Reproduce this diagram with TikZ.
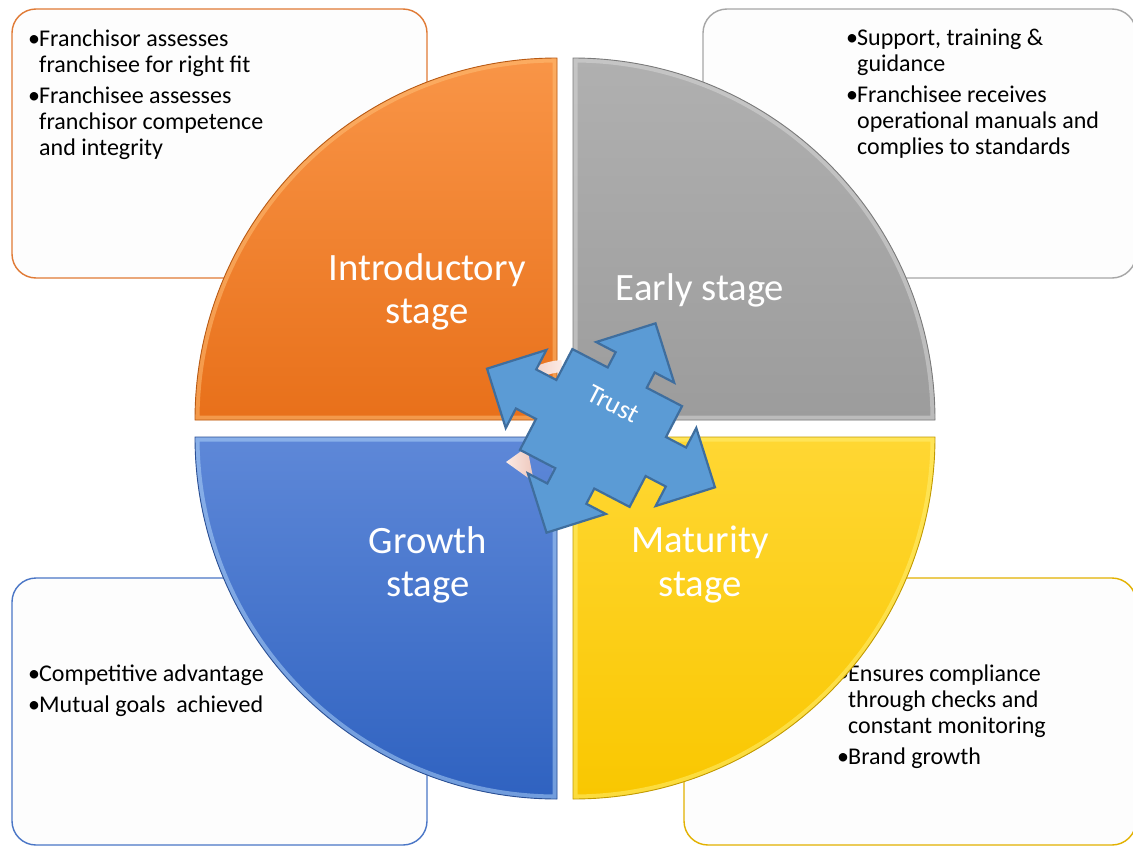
\documentclass[tikz,border=0pt]{standalone}
\usepackage{fontspec}
\setmainfont{Carlito}
\definecolor{orTop}{HTML}{F99547}
\definecolor{orBot}{HTML}{E8701A}
\definecolor{orEdge}{HTML}{B85A14}
\definecolor{orHi}{HTML}{FFC27A}
\definecolor{gyTop}{HTML}{B0B0B0}
\definecolor{gyBot}{HTML}{9C9C9C}
\definecolor{gyEdge}{HTML}{7A7A7A}
\definecolor{gyHi}{HTML}{DADADA}
\definecolor{blTop}{HTML}{5E88D8}
\definecolor{blBot}{HTML}{2F62C0}
\definecolor{blEdge}{HTML}{2A4F94}
\definecolor{blHi}{HTML}{B4D8FA}
\definecolor{ylTop}{HTML}{FFD733}
\definecolor{ylBot}{HTML}{F9C700}
\definecolor{ylEdge}{HTML}{C29A00}
\definecolor{ylHi}{HTML}{FFF27A}
\definecolor{boxOr}{HTML}{E07A35}
\definecolor{boxGy}{HTML}{A6A6A6}
\definecolor{boxBl}{HTML}{4A76C6}
\definecolor{boxYl}{HTML}{E2B100}
\definecolor{boxFill}{HTML}{FDFDFD}
\definecolor{trustFill}{HTML}{5B9BD5}
\definecolor{trustEdge}{HTML}{3F6E9E}
\definecolor{pinkA}{HTML}{EEC7BC}
\definecolor{pinkB}{HTML}{FBEAE4}
\newcommand\quadpiece[8]{%
  \path[top color=#5,bottom color=#6] #1 -- #2 arc[start angle=#3,end angle=#4,radius=362] -- cycle;
  \begin{scope}
    \clip #1 -- #2 arc[start angle=#3,end angle=#4,radius=362] -- cycle;
    \draw[#7,line width=9pt,opacity=0.5,line join=round] #1 -- #2 arc[start angle=#3,end angle=#4,radius=362] -- cycle;
  \end{scope}
  \draw[#8,line width=0.9pt,line join=round] #1 -- #2 arc[start angle=#3,end angle=#4,radius=362] -- cycle;
}
\begin{document}
\begin{tikzpicture}[x=1pt,y=-1pt,
  boxtxt/.style={anchor=base west,inner sep=0pt,font=\fontsize{24}{26}\selectfont,text=black},
  bul/.style={anchor=base west,inner sep=0pt,font=\fontsize{24}{26}\selectfont,text=black},
  stagetxt/.style={anchor=base,inner sep=0pt,font=\fontsize{38.7}{43}\selectfont,text=white},
  infobox/.style={rounded corners=24pt,line width=1.4pt,fill=boxFill}]
\useasboundingbox (0,0) rectangle (1133,846);
\fill[white] (0,0) rectangle (1133,846);

% info boxes
\draw[infobox,draw=boxOr] (12,9) rectangle (427,278);
\draw[infobox,draw=boxGy] (703,9) rectangle (1136,278);
\draw[infobox,draw=boxBl] (12,578) rectangle (427,845);
\draw[infobox,draw=boxYl] (684,578) rectangle (1136,845);

% box texts
\node[bul] (tlb1) at (28,46) {•};
\node[boxtxt] (tl1) at (39,46) {Franchisor assesses};
\node[boxtxt] (tl2) at (39,72) {franchisee for right fit};
\node[bul] (tlb2) at (28,103) {•};
\node[boxtxt] (tl3) at (39,103) {Franchisee assesses};
\node[boxtxt] (tl4) at (39,129) {franchisor competence};
\node[boxtxt] (tl5) at (39,155) {and integrity};

\node[bul] (trb1) at (846,45) {•};
\node[boxtxt] (tr1) at (857,45) {Support, training \&};
\node[boxtxt] (tr2) at (857,71) {guidance};
\node[bul] (trb2) at (846,102) {•};
\node[boxtxt] (tr3) at (857,102) {Franchisee receives};
\node[boxtxt] (tr4) at (857,128) {operational manuals and};
\node[boxtxt] (tr5) at (857,154) {complies to standards};

\node[bul] (blb1) at (28,681) {•};
\node[boxtxt] (bl1) at (39,681) {Competitive advantage};
\node[bul] (blb2) at (28,712) {•};
\node[boxtxt] (bl2) at (39,712) {Mutual goals~ achieved};

\node[bul] (brb1) at (837,681) {•};
\node[boxtxt] (br1) at (848,681) {Ensures compliance};
\node[boxtxt] (br2) at (848,707) {through checks and};
\node[boxtxt] (br3) at (848,733) {constant monitoring};
\node[bul] (brb2) at (837,764) {•};
\node[boxtxt] (br4) at (848,764) {Brand growth};

% quadrants
\quadpiece{(557,420)}{(195,420)}{180}{270}{orTop}{orBot}{orHi}{orEdge}
\quadpiece{(573,420)}{(573,58)}{270}{360}{gyTop}{gyBot}{gyHi}{gyEdge}
\quadpiece{(573,437)}{(935,437)}{0}{90}{ylTop}{ylBot}{ylHi}{ylEdge}
\quadpiece{(557,437)}{(557,799)}{90}{180}{blTop}{blBot}{blHi}{blEdge}

% stage labels
\node[stagetxt] (intro1) at (427,280) {Introductory};
\node[stagetxt] (intro2) at (427,323) {stage};
\node[stagetxt] (early) at (700,300) {Early stage};
\node[stagetxt] (grow1) at (428,553) {Growth};
\node[stagetxt] (grow2) at (428,596) {stage};
\node[stagetxt] (mat1) at (700,552) {Maturity};
\node[stagetxt] (mat2) at (700,596) {stage};

% small circular arrow pieces behind the trust arrow
\shade[left color=pinkA,right color=pinkB]
  ([shift={(-93:68)}]565,428) arc[start angle=-93,end angle=-130,radius=68]
  -- ([shift={(-130:56)}]565,428) arc[start angle=-130,end angle=-93,radius=56] -- cycle;
\shade[left color=pinkB,right color=pinkA] (506,462) -- (527,447) -- (534,482) -- cycle;

% trust quad arrow callout
\begin{scope}[shift={(601,428)},rotate=-27.5]
\draw[fill=trustFill,draw=trustEdge,line width=2.2pt,line join=miter]
  (0,-118) -- (44,-74) -- (22,-74) -- (22,-56.8) -- (61.8,-56.8) -- (61.8,-22)
  -- (84.5,-22) -- (84.5,-44) -- (128.5,0) -- (84.5,44) -- (84.5,22) -- (61.8,22)
  -- (61.8,56.8) -- (22,56.8) -- (22,74) -- (44,74) -- (0,118) -- (-44,74)
  -- (-22,74) -- (-22,56.8) -- (-61.8,56.8) -- (-61.8,22) -- (-84.5,22) -- (-84.5,44)
  -- (-128.5,0) -- (-84.5,-44) -- (-84.5,-22) -- (-61.8,-22) -- (-61.8,-56.8)
  -- (-22,-56.8) -- (-22,-74) -- (-44,-74) -- cycle;
\end{scope}
\node[rotate=-27.5,text=white,inner sep=0pt,font=\fontsize{27}{30}\selectfont] (trust) at (613.5,404) {Trust};
\end{tikzpicture}
\end{document}
